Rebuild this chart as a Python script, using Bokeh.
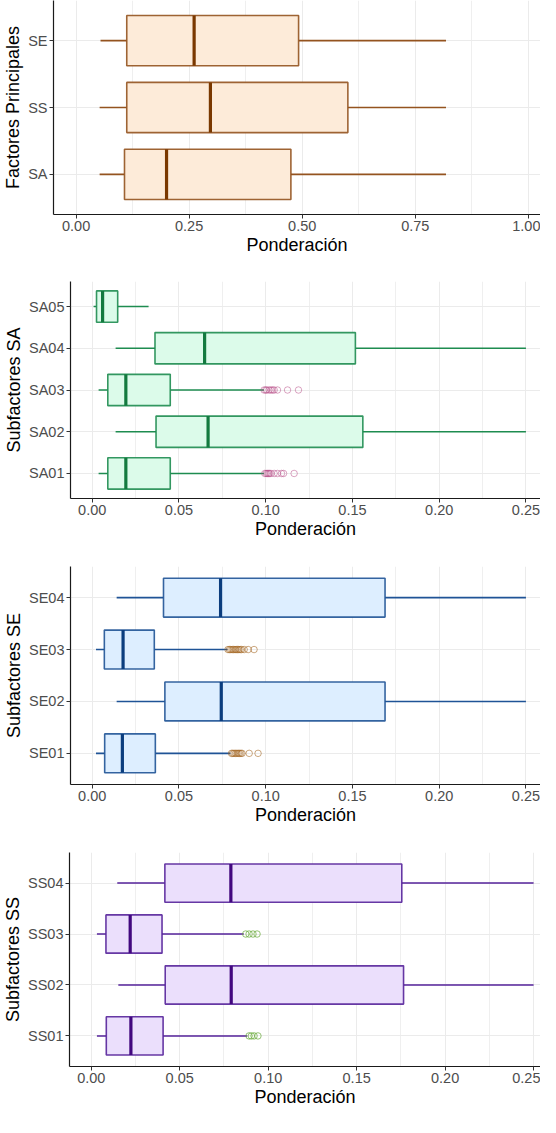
from bokeh.plotting import figure
from bokeh.models import FactorRange, Range1d, FixedTicker, NumeralTickFormatter
from bokeh.embed import file_html
from bokeh.resources import INLINE

FONT = "Liberation Sans"

# ---------------- data ----------------
# Panel 1: Factores Principales
p1_cats = ["SA", "SS", "SE"]
p1_low = [0.052, 0.052, 0.054]
p1_q1 = [0.107, 0.112, 0.112]
p1_med = [0.200, 0.297, 0.261]
p1_q3 = [0.475, 0.601, 0.492]
p1_high = [0.818, 0.818, 0.818]
p1_out = [[], [], []]
p1_ticks = [0.0, 0.25, 0.5, 0.75, 1.0]
p1_minor = [0.125, 0.375, 0.625, 0.875]

# Panel 2: Subfactores SA
p2_cats = ["SA01", "SA02", "SA03", "SA04", "SA05"]
p2_low = [0.0037, 0.0135, 0.0037, 0.0135, 0.0008]
p2_q1 = [0.0090, 0.0368, 0.0090, 0.0362, 0.0025]
p2_med = [0.0194, 0.0668, 0.0194, 0.0648, 0.0060]
p2_q3 = [0.0450, 0.1560, 0.0450, 0.1517, 0.0147]
p2_high = [0.0990, 0.2500, 0.0990, 0.2500, 0.0325]
p2_out = [
    [0.0995, 0.1003, 0.1010, 0.1016, 0.1022, 0.1030, 0.1049, 0.1068, 0.1091, 0.1103, 0.1164],
    [],
    [0.0991, 0.1000, 0.1007, 0.1020, 0.1030, 0.1040, 0.1049, 0.1068, 0.1126, 0.1189],
    [],
    [],
]
p2_ticks = [0.0, 0.05, 0.10, 0.15, 0.20, 0.25]
p2_minor = [0.025, 0.075, 0.125, 0.175, 0.225]

# Panel 3: Subfactores SE
p3_cats = ["SE01", "SE02", "SE03", "SE04"]
p3_low = [0.0022, 0.0141, 0.0022, 0.0141]
p3_q1 = [0.0072, 0.0419, 0.0070, 0.0411]
p3_med = [0.0174, 0.0744, 0.0178, 0.0740]
p3_q3 = [0.0364, 0.1688, 0.0358, 0.1688]
p3_high = [0.0797, 0.2500, 0.0780, 0.2500]
p3_out = [
    [0.0803, 0.0810, 0.0818, 0.0826, 0.0834, 0.0842, 0.0849, 0.0857, 0.0864, 0.0905, 0.0956],
    [],
    [0.0783, 0.0791, 0.0799, 0.0807, 0.0815, 0.0823, 0.0830, 0.0838, 0.0845, 0.0853,
     0.0861, 0.0876, 0.0899, 0.0933],
    [],
]
p3_ticks = [0.0, 0.05, 0.10, 0.15, 0.20, 0.25]
p3_minor = [0.025, 0.075, 0.125, 0.175, 0.225]

# Panel 4: Subfactores SS
p4_cats = ["SS01", "SS02", "SS03", "SS04"]
p4_low = [0.0032, 0.0153, 0.0032, 0.0147]
p4_q1 = [0.0085, 0.0418, 0.0083, 0.0416]
p4_med = [0.0224, 0.0791, 0.0220, 0.0789]
p4_q3 = [0.0406, 0.1765, 0.0400, 0.1755]
p4_high = [0.0882, 0.2500, 0.0862, 0.2500]
p4_out = [
    [0.0892, 0.0905, 0.0920, 0.0942],
    [],
    [0.0873, 0.0892, 0.0914, 0.0937],
    [],
]
p4_ticks = [0.0, 0.05, 0.10, 0.15, 0.20, 0.25]
p4_minor = [0.025, 0.075, 0.125, 0.175, 0.225]


def make_panel(cats, low, q1, med, q3, high, outs, ticks, minor, xr, ytitle,
               height, b_left, b_top, b_bottom, fill, line, medc, outc, out_alpha):
    p = figure(width=540, height=height,
               y_range=FactorRange(factors=cats, range_padding=0.1,
                                   range_padding_units="absolute"),
               x_range=Range1d(*xr),
               output_backend="svg", toolbar_location=None,
               min_border_left=b_left, min_border_right=0,
               min_border_top=b_top, min_border_bottom=b_bottom)
    p.outline_line_color = None
    p.background_fill_color = "white"

    # whiskers
    p.segment(x0=low, y0=cats, x1=q1, y1=cats, line_color=line, line_width=1.6)
    p.segment(x0=q3, y0=cats, x1=high, y1=cats, line_color=line, line_width=1.6)
    # boxes
    p.hbar(y=cats, left=q1, right=q3, height=0.75, fill_color=fill,
           line_color=line, line_width=1.6, line_alpha=0.9)
    # medians
    p.rect(x=med, y=cats, width=3.2, width_units="screen", height=0.75,
           fill_color=medc, line_color=None)
    # outliers
    ox, oy = [], []
    for c, lst in zip(cats, outs):
        for v in lst:
            ox.append(v)
            oy.append(c)
    if ox:
        p.scatter(x=ox, y=oy, marker="circle", size=6.5, fill_color=None,
                  line_color=outc, line_alpha=out_alpha, line_width=1.0)

    ax = p.xaxis[0]
    ax.ticker = FixedTicker(ticks=ticks, minor_ticks=minor)
    ax.formatter = NumeralTickFormatter(format="0.00")
    ax.axis_label = "Ponderación"
    ay = p.yaxis[0]
    ay.axis_label = ytitle
    for a in (ax, ay):
        a.axis_label_text_font = FONT
        a.axis_label_text_font_size = "18px"
        a.axis_label_text_font_style = "normal"
        a.axis_label_text_color = "black"
        a.major_label_text_font = FONT
        a.major_label_text_font_size = "14.5px"
        a.major_label_text_color = "#4d4d4d"
        a.axis_line_color = "#1a1a1a"
        a.axis_line_width = 1.2
        a.major_tick_line_color = "#333333"
        a.major_tick_out = 4
        a.major_tick_in = 0
        a.minor_tick_out = 0
        a.minor_tick_in = 0
        a.minor_tick_line_color = None
        a.major_label_standoff = 2
    ax.axis_label_standoff = 1
    ay.axis_label_standoff = 2

    p.xgrid.grid_line_color = "#ebebeb"
    p.xgrid.grid_line_width = 1
    p.xgrid.minor_grid_line_color = "#ebebeb"
    p.xgrid.minor_grid_line_width = 0.8
    p.ygrid.grid_line_color = "#ebebeb"
    p.ygrid.grid_line_width = 1
    return p


p1 = make_panel(p1_cats, p1_low, p1_q1, p1_med, p1_q3, p1_high, p1_out, p1_ticks, p1_minor,
                (-0.05, 1.027), "Factores Principales", 265, 52, 0, 51,
                "#fdebd9", "#94531f", "#7a3800", "#94531f", 0.5)
p2 = make_panel(p2_cats, p2_low, p2_q1, p2_med, p2_q3, p2_high, p2_out, p2_ticks, p2_minor,
                (-0.0125, 0.2584), "Subfactores SA", 284, 70, 16, 51,
                "#dcfbea", "#1e8c50", "#137a3f", "#b03a7a", 0.45)
p3 = make_panel(p3_cats, p3_low, p3_q1, p3_med, p3_q3, p3_high, p3_out, p3_ticks, p3_minor,
                (-0.0125, 0.2584), "Subfactores SE", 286, 70, 17, 51,
                "#ddeeff", "#1f5396", "#0b3d7e", "#a0601a", 0.55)
p4 = make_panel(p4_cats, p4_low, p4_q1, p4_med, p4_q3, p4_high, p4_out, p4_ticks, p4_minor,
                (-0.0123, 0.2539), "Subfactores SS", 282, 64, 17, 51,
                "#ebdffc", "#55229a", "#42087f", "#6aaa3a", 0.7)

open("out.html", "w").write(file_html([p1, p2, p3, p4], INLINE))
